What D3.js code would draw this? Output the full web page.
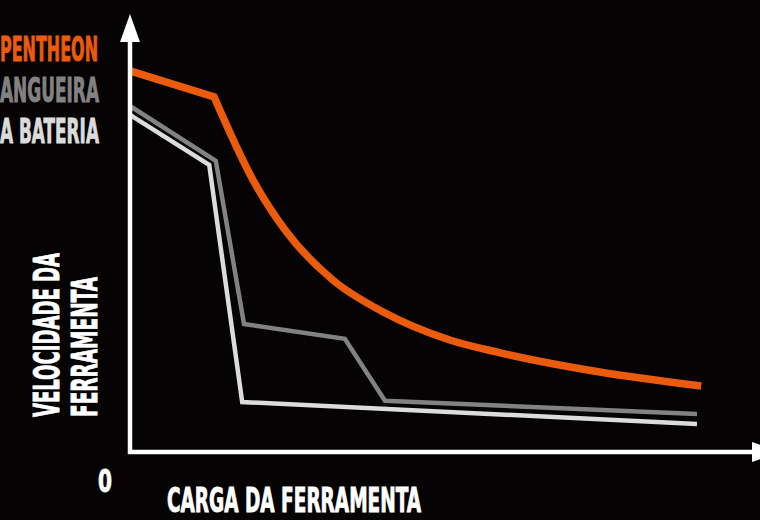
<!DOCTYPE html>
<html>
<head>
<meta charset="utf-8">
<script src="https://cdn.jsdelivr.net/npm/d3@7"></script>
<style>
  html, body { margin: 0; padding: 0; background: #050303; overflow: hidden; }
  svg { display: block; }
</style>
</head>
<body>
<svg id="chart" width="760" height="520"></svg>
<script>
// ---- data (arbitrary units: load 0-100, speed 0-100) ----
const seriesNames = ["PENTHEON", "ANGUEIRA", "A BATERIA"];
const pentheon = [[0, 95.3], [14, 88.8], [20.5, 68], [26.2, 54.8], [33.8, 43], [42.2, 35], [53.3, 28], [61.7, 24.8], [78.3, 20], [95.2, 16.5]];
const mangueira = [[0, 86.5], [14.3, 72.8], [19, 32], [35.8, 28.3], [42.5, 12.8], [94.5, 9.5]];
const bateria = [[0, 84.3], [13.2, 71.8], [18.7, 12.5], [94.5, 7]];
const yLabelLines = ["VELOCIDADE DA", "FERRAMENTA"];
const xLabel = "CARGA DA FERRAMENTA";
const originLabel = "0";

const colors = { orange: "#ea5b0c", gray: "#828282", light: "#dcdcdc", white: "#ffffff" };
const font = "'Liberation Sans Narrow', 'DejaVu Sans Condensed', Roboto, sans-serif";

const svg = d3.select("#chart");
svg.append("rect").attr("width", 760).attr("height", 520).attr("fill", "#050303");

const x = d3.scaleLinear().domain([0, 100]).range([130, 730]);
const y = d3.scaleLinear().domain([0, 100]).range([452, 52]);

const lineLin = d3.line().x(d => x(d[0])).y(d => y(d[1]));
const lineCurve = d3.line().x(d => x(d[0])).y(d => y(d[1])).curve(d3.curveMonotoneX);

// series
svg.append("path")
  .attr("d", lineLin(bateria))
  .attr("fill", "none").attr("stroke", colors.light).attr("stroke-width", 4.5)
  .attr("stroke-linejoin", "miter");
svg.append("path")
  .attr("d", lineLin(mangueira))
  .attr("fill", "none").attr("stroke", colors.gray).attr("stroke-width", 4.5)
  .attr("stroke-linejoin", "miter");
const p0 = pentheon[0];
const dOrange = "M" + x(p0[0]) + "," + y(p0[1]) + lineCurve(pentheon.slice(1)).replace(/^M/, "L");
svg.append("path")
  .attr("d", dOrange)
  .attr("fill", "none").attr("stroke", colors.orange).attr("stroke-width", 7.5)
  .attr("stroke-linejoin", "miter");

// axes
const x0 = x(0), yBase = y(0);
svg.append("line").attr("x1", x0).attr("x2", x0).attr("y1", yBase + 2).attr("y2", 40)
  .attr("stroke", colors.white).attr("stroke-width", 4.5);
svg.append("path").attr("d", `M${x0},14 L${x0 + 10},42 L${x0 - 10},42 Z`).attr("fill", colors.white);
svg.append("line").attr("x1", x0 - 2).attr("x2", 754).attr("y1", yBase).attr("y2", yBase)
  .attr("stroke", colors.white).attr("stroke-width", 4.5);
svg.append("path").attr("d", `M780,${yBase} L752,${yBase - 10} L752,${yBase + 10} Z`).attr("fill", colors.white);

// legend labels (cut by the left edge)
const legend = [
  { t: seriesNames[0], c: colors.orange, base: 61, len: 98 },
  { t: seriesNames[1], c: colors.gray, base: 102, len: 99 },
  { t: seriesNames[2], c: colors.light, base: 143, len: 99 }
];
svg.selectAll("text.legend").data(legend).enter().append("text")
  .attr("class", "legend")
  .attr("x", 0).attr("y", d => d.base)
  .attr("textLength", d => d.len).attr("lengthAdjust", "spacingAndGlyphs")
  .attr("fill", d => d.c).attr("stroke", d => d.c).attr("stroke-width", 0.9)
  .style("font-family", font).style("font-weight", "bold").style("font-size", "33px")
  .text(d => d.t);

// y axis label
const yl = [{ t: yLabelLines[0], bx: 58.5, len: 164 }, { t: yLabelLines[1], bx: 96.5, len: 140 }];
svg.selectAll("text.ylab").data(yl).enter().append("text")
  .attr("class", "ylab")
  .attr("transform", d => `translate(${d.bx},417) rotate(-90)`)
  .attr("textLength", d => d.len).attr("lengthAdjust", "spacingAndGlyphs")
  .attr("fill", colors.white).attr("stroke", colors.white).attr("stroke-width", 0.9)
  .style("font-family", font).style("font-weight", "bold").style("font-size", "36px")
  .text(d => d.t);

// origin and x label
svg.append("text").attr("x", 98).attr("y", 492)
  .attr("textLength", 14).attr("lengthAdjust", "spacingAndGlyphs")
  .attr("fill", colors.white).attr("stroke", colors.white).attr("stroke-width", 0.8)
  .style("font-family", font).style("font-weight", "bold").style("font-size", "32px")
  .text(originLabel);
svg.append("text").attr("x", 167).attr("y", 512)
  .attr("textLength", 254).attr("lengthAdjust", "spacingAndGlyphs")
  .attr("fill", colors.white).attr("stroke", colors.white).attr("stroke-width", 0.9)
  .style("font-family", font).style("font-weight", "bold").style("font-size", "33px")
  .text(xLabel);
</script>
</body>
</html>
